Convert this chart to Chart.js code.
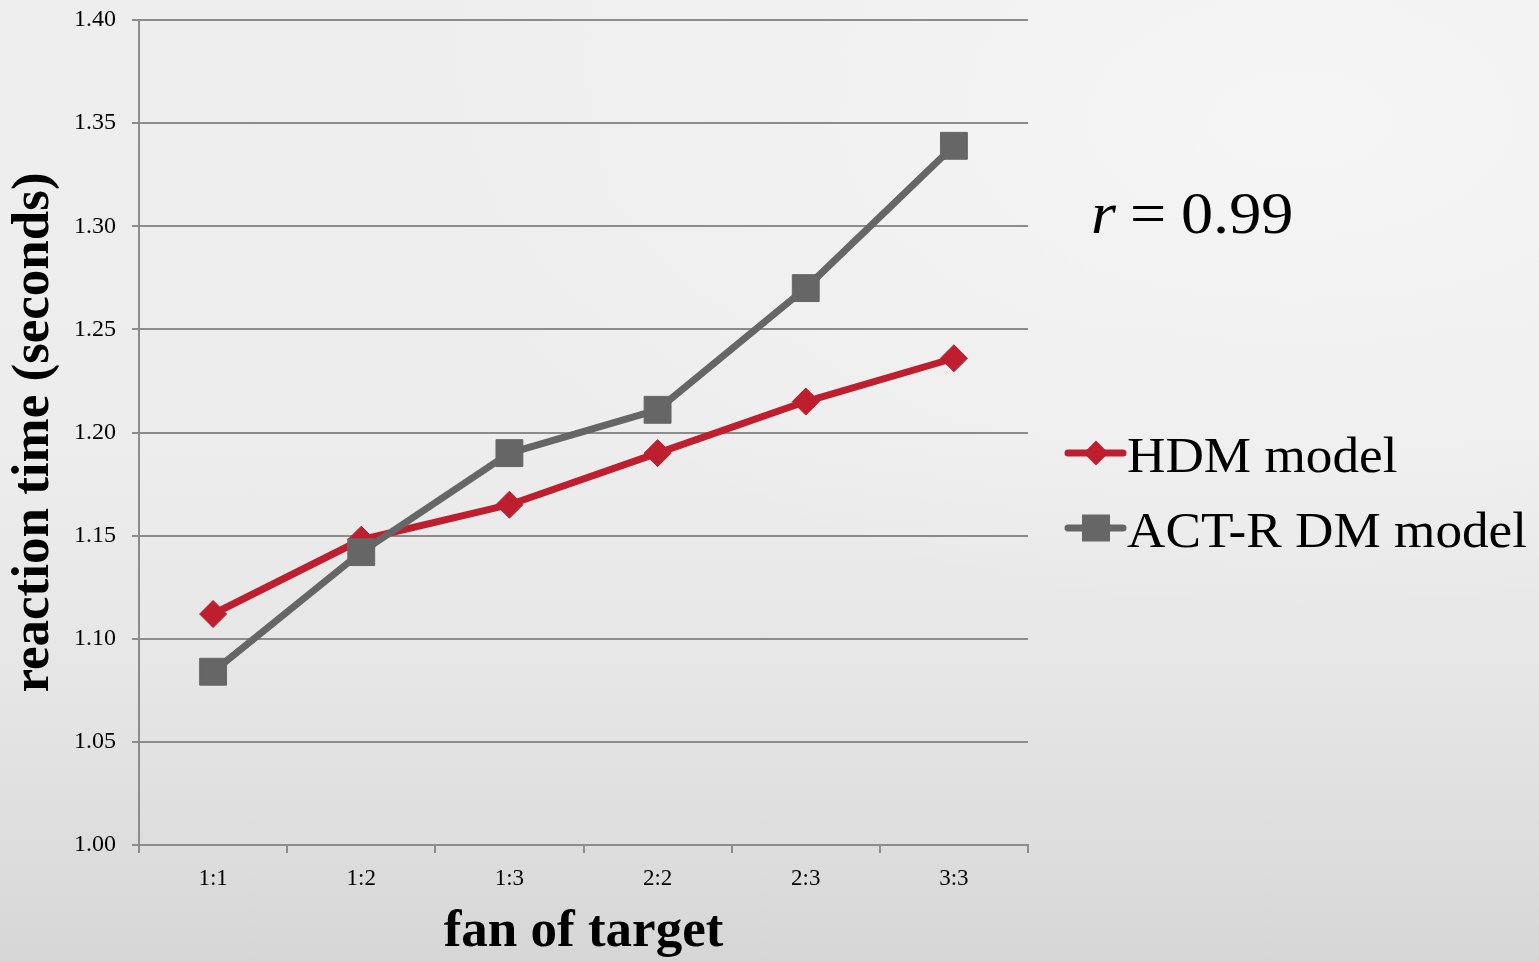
<!DOCTYPE html>
<html>
<head>
<meta charset="utf-8">
<title>Fan effect: reaction time by fan of target</title>
<script src="https://cdn.jsdelivr.net/npm/chart.js@4.4.1/dist/chart.umd.min.js"></script>
<style>
  html, body { margin: 0; padding: 0; width: 1539px; height: 961px; overflow: hidden; }
  body {
    background:
      radial-gradient(ellipse 900px 500px at 1300px 120px, rgba(248,248,248,0.7) 0%, rgba(248,248,248,0) 100%),
      linear-gradient(to bottom, #eeeeee 0%, #ededed 45%, #e6e6e6 70%, #dcdcdc 90%, #d6d6d6 100%);
  }
  #wrap { position: relative; width: 1539px; height: 961px; }
  canvas { display: block; }
</style>
</head>
<body>
<div id="wrap"><canvas id="chart" width="1539" height="961"></canvas></div>
<script>
// Fan of the target (category axis)
const categories = ['1:1', '1:2', '1:3', '2:2', '2:3', '3:3'];
// Reaction time in seconds for each model
const hdmModel  = [1.112, 1.148, 1.165, 1.190, 1.215, 1.236];
const actrModel = [1.084, 1.142, 1.190, 1.211, 1.270, 1.339];
// Value axis ticks
const yTicks = [1.00, 1.05, 1.10, 1.15, 1.20, 1.25, 1.30, 1.35, 1.40];
// Correlation between the two models
const correlation = 0.99;

const seriesNames = ['HDM model', 'ACT-R DM model'];
const RED = '#be1e2d';
const GRAY = '#666666';
const GRID = '#8c8c8c';
const SERIF = '"Liberation Serif", "Times New Roman", Times, serif';

// draw text slightly widened, starting at x (left aligned)
function wideText(ctx, text, x, y, sx) {
  ctx.save();
  ctx.translate(x, y);
  ctx.scale(sx, 1);
  ctx.fillText(text, 0, 0);
  ctx.restore();
}

// Legend on the right plus the correlation note
const sideNotes = {
  id: 'sideNotes',
  afterDraw(chart) {
    const ctx = chart.ctx;
    ctx.save();

    // correlation
    ctx.fillStyle = '#000';
    ctx.textBaseline = 'alphabetic';
    ctx.textAlign = 'left';
    ctx.font = 'italic 60px ' + SERIF;
    wideText(ctx, 'r', 1091, 233, 1.07);
    ctx.font = '60px ' + SERIF;
    wideText(ctx, '=', 1130, 233, 1.07);
    wideText(ctx, correlation.toFixed(2), 1181, 233, 1.07);

    // legend
    const rows = [
      { y: 453, color: RED, shape: 'diamond' },
      { y: 528, color: GRAY, shape: 'square' }
    ];
    rows.forEach((row, i) => {
      ctx.strokeStyle = row.color;
      ctx.lineWidth = 7;
      ctx.lineCap = 'round';
      ctx.beginPath();
      ctx.moveTo(1068, row.y);
      ctx.lineTo(1123, row.y);
      ctx.stroke();
      ctx.fillStyle = row.color;
      ctx.beginPath();
      if (row.shape === 'diamond') {
        ctx.moveTo(1096, row.y - 12.5);
        ctx.lineTo(1108.5, row.y);
        ctx.lineTo(1096, row.y + 12.5);
        ctx.lineTo(1083.5, row.y);
        ctx.closePath();
      } else {
        ctx.rect(1082, row.y - 13.5, 28, 27);
      }
      ctx.fill();
      ctx.fillStyle = '#000';
      ctx.font = '50px ' + SERIF;
      wideText(ctx, seriesNames[i], 1127, row.y + 19, 1.064);
    });
    ctx.restore();
  }
};

new Chart(document.getElementById('chart'), {
  type: 'line',
  data: {
    labels: categories,
    datasets: [
      {
        label: seriesNames[0],
        data: hdmModel,
        borderColor: RED,
        backgroundColor: RED,
        borderWidth: 7,
        borderJoinStyle: 'round',
        tension: 0,
        pointStyle: 'rectRot',
        pointRadius: 13.5,
        pointBorderWidth: 1,
        pointBorderColor: RED,
        pointBackgroundColor: RED,
        order: 1
      },
      {
        label: seriesNames[1],
        data: actrModel,
        borderColor: GRAY,
        backgroundColor: GRAY,
        borderWidth: 7,
        borderJoinStyle: 'round',
        tension: 0,
        pointStyle: 'rect',
        pointRadius: 19,
        pointBorderWidth: 1,
        pointBorderColor: GRAY,
        pointBackgroundColor: GRAY,
        order: 0
      }
    ]
  },
  options: {
    responsive: false,
    devicePixelRatio: 1,
    animation: false,
    events: [],
    layout: { padding: { left: 0, right: 511, top: 18, bottom: 0 } },
    plugins: {
      legend: { display: false },
      tooltip: { enabled: false },
      title: { display: false }
    },
    scales: {
      x: {
        type: 'category',
        offset: true,
        grid: {
          offset: true,
          drawOnChartArea: false,
          drawTicks: true,
          tickLength: 8,
          color: GRID,
          lineWidth: 2
        },
        border: { display: true, color: GRID, width: 2 },
        ticks: {
          color: '#000',
          font: { family: SERIF, size: 23 },
          padding: 12,
          maxRotation: 0
        },
        title: {
          display: true,
          text: 'fan of target',
          color: '#000',
          font: { family: SERIF, size: 53, weight: 'bold', lineHeight: 1.1 },
          padding: { top: 0, bottom: 0 }
        },
        afterFit(scale) { scale.height = 116; }
      },
      y: {
        min: 1.0,
        max: 1.4,
        afterBuildTicks(scale) { scale.ticks = yTicks.map(v => ({ value: v })); },
        grid: {
          drawTicks: true,
          tickLength: 7,
          color: GRID,
          lineWidth: 2
        },
        border: { display: true, color: GRID, width: 2 },
        ticks: {
          color: '#000',
          font: { family: SERIF, size: 24 },
          padding: 16,
          callback: v => Number(v).toFixed(2)
        },
        title: {
          display: true,
          text: 'reaction time (seconds)',
          color: '#000',
          font: { family: SERIF, size: 53, weight: 'bold' },
          padding: { top: 3, bottom: 0 }
        },
        afterFit(scale) {
          scale.width = 139;
          // plot area edges come from the layout padding only
          scale.paddingTop = 0;
          scale.paddingBottom = 0;
        }
      }
    }
  },
  plugins: [sideNotes]
});
</script>
</body>
</html>
